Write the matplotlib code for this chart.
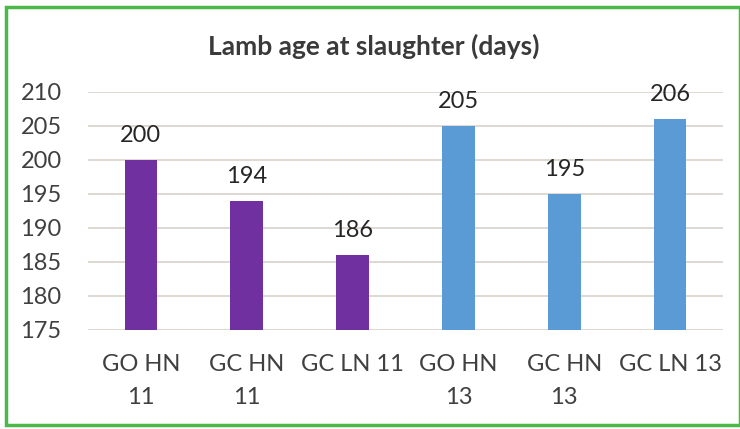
import matplotlib.pyplot as plt
from matplotlib.patches import Rectangle

groups = ["GO HN\n11", "GC HN\n11", "GC LN 11", "GO HN\n13", "GC HN\n13", "GC LN 13"]
ages = [200, 194, 186, 205, 195, 206]
colors = ["#7030A0", "#7030A0", "#7030A0", "#5B9BD5", "#5B9BD5", "#5B9BD5"]

plt.rcParams["font.family"] = ["Lato", "DejaVu Sans"]

fig = plt.figure(figsize=(7.4, 4.29), dpi=100)
ax = fig.add_axes([88 / 740, 1 - 330 / 429, (723 - 88) / 740, (330 - 92) / 429])

x = list(range(len(groups)))
ax.bar(x, ages, width=0.31, color=colors, zorder=3)
for xi, v in zip(x, ages):
    ax.annotate(str(v), (xi, v), xytext=(0, 10), textcoords="offset points",
                ha="center", va="bottom", fontsize=17, color="#262626")

ax.set_ylim(175, 210)
ax.set_xlim(-0.5, 5.5)
ax.set_yticks(range(175, 211, 5))
ax.yaxis.grid(True, color="#d9d2cc", linewidth=1.2, zorder=0)
ax.set_axisbelow(True)
for s in ax.spines.values():
    s.set_visible(False)
ax.tick_params(axis="both", length=0, labelsize=17, colors="#404040")
ax.tick_params(axis="y", pad=19)
ax.set_xticks(x)
ax.set_xticklabels(groups, va="top", linespacing=1.75)
ax.tick_params(axis="x", pad=17)

fig.text(0.5 + 4 / 740, 1 - 55 / 429, "Lamb age at slaughter (days)", ha="center", va="baseline",
         fontsize=19, fontweight="bold", color="#3a3a3a")

fig.patches.append(Rectangle((6 / 740, 1 - 425 / 429), 734 / 740, 418 / 429,
                             transform=fig.transFigure, fill=False,
                             edgecolor="#4cb848", linewidth=2.5))

fig.savefig("out.png", dpi=100)
